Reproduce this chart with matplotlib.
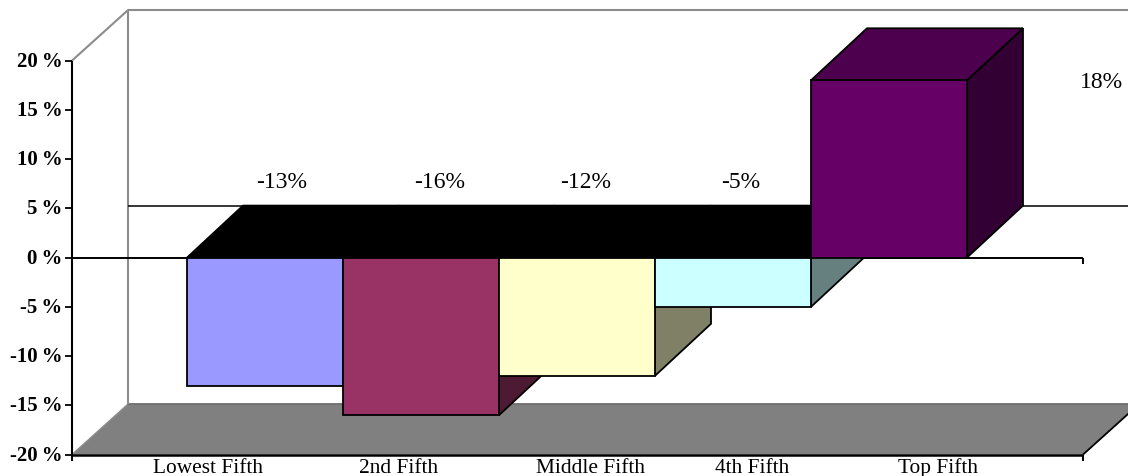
import matplotlib
matplotlib.use("Agg")
import matplotlib.pyplot as plt
from matplotlib.patches import Polygon

categories = ["Lowest Fifth", "2nd Fifth", "Middle Fifth", "4th Fifth", "Top Fifth"]
values = [-13, -16, -12, -5, 18]
value_labels = ["-13%", "-16%", "-12%", "-5%", "18%"]
y_ticks = [20, 15, 10, 5, 0, -5, -10, -15, -20]
front_colors = ["#9999FF", "#993366", "#FFFFCC", "#CCFFFF", "#660066"]
side_colors = ["#4D4D80", "#4D1A33", "#808066", "#668080", "#330033"]
top_color_pos = "#4D004D"

W, H = 1128, 477
X_UNIT, Y_UNIT = 156.0, 9.85      # pixels per category slot / per percentage point
X0_PX, Y0_PX = 265.0, 258.6       # pixel position of the first bar centre and of 0%
DX, DY = 56 / X_UNIT, 52 / Y_UNIT  # oblique depth offset of the bars, in data units
WALL_DY = 50.5 / Y_UNIT            # depth offset of the floor and the wall frame

X_LEFT = (72 - X0_PX) / X_UNIT
X_RIGHT = (1083 - X0_PX) / X_UNIT
Y_MIN, Y_MAX = y_ticks[-1], y_ticks[0]

plt.rcParams["font.family"] = ["Liberation Serif", "DejaVu Serif"]
fig = plt.figure(figsize=(W / 100, H / 100), dpi=100, facecolor="white")
ax = fig.add_axes([0, 0, 1, 1])
ax.set_xlim(-X0_PX / X_UNIT, (W - X0_PX) / X_UNIT)
ax.set_ylim((Y0_PX - H) / Y_UNIT, Y0_PX / Y_UNIT)
ax.axis("off")


def poly(points, face, edge="black", lw=1.3, z=2):
    ax.add_patch(Polygon(points, closed=True, facecolor=face, edgecolor=edge,
                         linewidth=lw, joinstyle="miter", zorder=z))


def line(xs, ys, color="black", lw=1.3, z=2):
    ax.plot(xs, ys, color=color, lw=lw, solid_capstyle="butt", zorder=z, clip_on=True)


# Floor and back wall
poly([(X_LEFT, Y_MIN), (X_LEFT + DX, Y_MIN + WALL_DY), (X_RIGHT + DX, Y_MIN + WALL_DY), (X_RIGHT, Y_MIN)],
     "#808080", edge="none", z=1)
line([X_LEFT + DX, X_RIGHT + DX], [Y_MIN + WALL_DY] * 2, color="#6E6E6E", lw=1.3, z=1.1)
line([X_LEFT, X_LEFT + DX, X_LEFT + DX], [Y_MAX, Y_MAX + WALL_DY, Y_MIN + WALL_DY], color="#8C8C8C", lw=1.5, z=1.2)
line([X_LEFT + DX, X_RIGHT + DX], [Y_MAX + WALL_DY] * 2, color="#8C8C8C", lw=1.5, z=1.2)
line([X_LEFT, X_LEFT + DX], [Y_MIN, Y_MIN + WALL_DY], color="#8C8C8C", lw=1.0, z=1.2)
line([X_RIGHT, X_RIGHT + DX], [Y_MIN, Y_MIN + WALL_DY], lw=1.3, z=1.2)

# Zero plane where it meets the back wall, and the zero axis in front
line([X_LEFT + DX, X_RIGHT + DX], [DY, DY], lw=1.1, z=1.3)
line([X_LEFT, X_RIGHT], [0, 0], lw=1.4, z=1.4)
line([X_RIGHT, X_RIGHT], [0, -6 / Y_UNIT], lw=1.4, z=1.4)

# Bars, left to right so that each one overlaps its neighbour's side face
z = 3
for i, (v, front, side) in enumerate(zip(values, front_colors, side_colors)):
    l, r = i - 0.5, i + 0.5
    poly([(r, 0), (r + DX, DY), (r + DX, v + DY), (r, v)], side, z=z)
    top = max(v, 0)
    poly([(l, top), (l + DX, top + DY), (r + DX, top + DY), (r, top)],
         top_color_pos if v > 0 else "black", z=z + 0.1)
    poly([(l, 0), (r, 0), (r, v), (l, v)], front, z=z + 0.2)
    z += 1

# Value axis with outward ticks
line([X_LEFT, X_LEFT], [Y_MIN, Y_MAX], lw=1.5, z=20)
for t in y_ticks:
    line([X_LEFT - 7 / X_UNIT, X_LEFT], [t, t], lw=1.3, z=20)
    ax.annotate(f"{t}\u2009%", (X_LEFT, t), xytext=(-9.5, 0), textcoords="offset pixels",
                ha="right", va="center", fontsize=15, fontweight="bold", zorder=21)

# Category axis along the front edge of the floor
line([X_LEFT, X_RIGHT], [Y_MIN, Y_MIN], lw=1.8, z=20)
for x in (X_LEFT, X_RIGHT):
    line([x, x], [Y_MIN, Y_MIN - 6 / Y_UNIT], lw=1.4, z=20)

# Label offsets from each bar centre, in pixels
cat_offsets = [-57, -22, 13, 19, 49]
for i, (name, off) in enumerate(zip(categories, cat_offsets)):
    ax.annotate(name, (i, Y_MIN), xytext=(off, -17), textcoords="offset pixels",
                ha="center", va="baseline", fontsize=15.4, zorder=21)

val_offsets = [17, 19, 9, 8, 212]
val_heights = [7.7, 7.7, 7.7, 7.7, 17.9]
for i, (txt, off, h) in enumerate(zip(value_labels, val_offsets, val_heights)):
    ax.annotate(txt, (i, h), xytext=(off, 0), textcoords="offset pixels",
                ha="center", va="center", fontsize=17, zorder=21)

fig.savefig("out.png", dpi=100, facecolor="white")
